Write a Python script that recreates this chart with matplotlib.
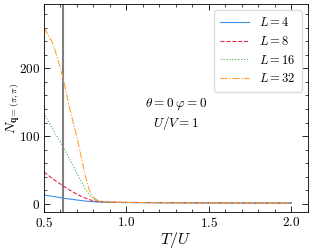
import matplotlib
matplotlib.use('Agg')
import matplotlib.pyplot as plt

plt.rcParams['mathtext.fontset'] = 'cm'
plt.rcParams['font.family'] = 'serif'
plt.rcParams['font.serif'] = ['DejaVu Serif']
plt.rcParams['font.size'] = 10

T = [0.5, 0.525, 0.55, 0.575, 0.6, 0.625, 0.65, 0.675, 0.7, 0.725, 0.75,
     0.775, 0.8, 0.825, 0.85, 0.9, 1.0, 1.2, 1.4, 1.6, 1.8, 2.0]
N4 = [13, 12, 11, 10, 9, 8, 7.2, 6.4, 5.6, 4.8, 4, 3.4, 3, 2.6, 2.3, 2,
      1.8, 1.5, 1.3, 1.2, 1.1, 1]
N8 = [47, 42, 37.5, 33, 29, 25, 21, 17.5, 14, 11, 8.5, 6, 4.5, 3.5, 3,
      2.5, 2, 1.6, 1.4, 1.2, 1.1, 1]
N16 = [134, 122, 112, 101, 91, 80, 68, 57, 45, 33, 22, 13, 7, 4.5, 3.5,
       2.5, 2, 1.6, 1.4, 1.2, 1.1, 1]
N32 = [260, 249, 239, 220, 200, 176, 146, 122, 98, 70, 42, 20, 9, 5, 3.5,
       2.5, 2, 1.6, 1.4, 1.2, 1.1, 1]
T_c = 0.613

fig = plt.figure(figsize=(3.12, 2.49), dpi=100)
ax = fig.add_axes([0.141, 0.149, 0.846, 0.835])

ax.axvline(T_c, color='#808080', lw=1.5)
ax.plot(T, N4, color='#3d8fe6', lw=0.8, ls='-', label='$L=4$')
ax.plot(T, N8, color='#e8284f', lw=0.8, ls='--', label='$L=8$')
ax.plot(T, N16, color='#4caf50', lw=0.8, ls=':', label='$L=16$')
ax.plot(T, N32, color='#ffa030', lw=0.8, ls='-.', label='$L=32$')

ax.set_xlim(0.5, 2.1)
ax.set_ylim(-12, 295)
ax.set_xticks([0.5, 1.0, 1.5, 2.0])
ax.set_xticklabels(['$0.5$', '$1.0$', '$1.5$', '$2.0$'])
ax.set_yticks([0, 100, 200])
ax.set_yticklabels(['$0$', '$100$', '$200$'])
ax.minorticks_on()
ax.tick_params(which='both', direction='in', top=True, right=True)
ax.tick_params(which='major', length=4, width=0.6, labelsize=9.5, pad=3)
ax.tick_params(which='minor', length=2, width=0.5)
for s in ax.spines.values():
    s.set_linewidth(0.6)

ax.set_xlabel('$T/U$', fontsize=11.5, labelpad=0)
ax.set_ylabel(r'$N_{\mathbf{q}=(\pi,\pi)}$', fontsize=10)
ax.yaxis.set_label_coords(-0.088, 0.5)

ax.text(0.5, 0.47, '$\\theta=0\\;\\varphi=0$\n$U/V=1$', transform=ax.transAxes,
        ha='center', va='center', fontsize=9.5, linespacing=1.2)
ax.legend(loc='upper right', fontsize=9, handlelength=2.3, framealpha=1,
          edgecolor='#dddddd', borderpad=0.5, labelspacing=0.45)

fig.savefig('out.png', dpi=100)
